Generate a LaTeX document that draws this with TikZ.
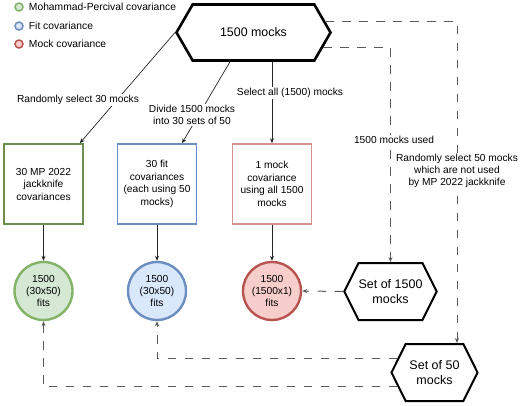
\documentclass[tikz,border=0pt]{standalone}
\usepackage{fontspec}
\setmainfont{Liberation Sans}
\usetikzlibrary{shapes.symbols,arrows.meta,positioning}

\definecolor{mpline}{HTML}{82B366}
\definecolor{mpfill}{HTML}{D5E8D4}
\definecolor{mpbox}{HTML}{6D8E4E}
\definecolor{fitline}{HTML}{6C8EBF}
\definecolor{fitfill}{HTML}{DAE8FC}
\definecolor{mockline}{HTML}{B85450}
\definecolor{mockfill}{HTML}{F8CECC}
\definecolor{mockbox}{HTML}{D4928E}

\begin{document}
\begin{tikzpicture}[x=1pt,y=-1pt,>={Stealth[length=5pt,width=4pt]},
    cov box/.style={rectangle,draw,line width=1.6pt,minimum width=79pt,minimum height=80pt,align=center,font=\fontsize{10.2}{12.5}\selectfont},
    fit node/.style={circle,draw,line width=2.4pt,minimum size=58pt,inner sep=0pt,align=center,font=\fontsize{10.2}{12.3}\selectfont},
    mock set/.style={signal,signal to=west and east,draw,line width=2pt,inner sep=0pt,align=center},
    key node/.style={circle,draw,line width=1.5pt,minimum size=8pt,inner sep=0pt},
    key text/.style={inner sep=0pt,font=\fontsize{10.3}{12}\selectfont},
    step label/.style={fill=white,inner sep=1pt,align=center,font=\fontsize{10.2}{12.2}\selectfont},
    solid link/.style={->,draw=black!85,line width=0.7pt},
    dashed link/.style={->,draw=black!65,line width=1pt,dash pattern=on 8.5pt off 8.5pt}]

    \useasboundingbox (0,0) rectangle (520,405);

    % legend
    \node[key node, draw=mpline, fill=mpfill]  (mpkey)   at (19,7) {};
    \node[key node, draw=fitline, fill=fitfill]  (fitkey)  at (19,26) {};
    \node[key node, draw=mockline, fill=mockfill]  (mockkey) at (19,44) {};
    \node[key text] (mpkeytext)   [right=5pt of mpkey]   {Mohammad-Percival covariance};
    \node[key text] (fitkeytext)  [right=5pt of fitkey]  {Fit covariance};
    \node[key text] (mockkeytext) [right=5pt of mockkey] {Mock covariance};

    % all mocks
    \node[mock set, line width=2.6pt, minimum width=154pt, minimum height=56pt, signal pointer angle=120,
          font=\fontsize{12.4}{15}\selectfont] (top) at (253.5,32.5) {1500 mocks};
    \coordinate (topdiv) at ([xshift=-23.5pt]top.south);
    \coordinate (topall) at ([xshift=18.5pt]top.south);

    % covariances
    \node[cov box, draw=mpbox]   (mpcov)   at (43.5,184) {30 MP 2022\\jackknife\\covariances};
    \node[cov box, draw=fitline] (fitcov)  at (157,184)  {30 fit\\covariances\\(each using 50\\mocks)};
    \node[cov box, draw=mockbox] (mockcov) at (272,184)  {1 mock\\covariance\\using all 1500\\mocks};

    % fits
    \node[fit node, draw=mpline, fill=mpfill]     (mpfits)   at (43.5,291) {1500\\(30x50)\\fits};
    \node[fit node, draw=fitline, fill=fitfill]   (fitfits)  at (157,291)  {1500\\(30x50)\\fits};
    \node[fit node, draw=mockline, fill=mockfill] (mockfits) at (272,291)  {1500\\(1500x1)\\fits};

    % mock sets
    \node[mock set, minimum width=86pt, minimum height=57pt, signal pointer angle=127,
          font=\fontsize{12.5}{15}\selectfont] (set1500) at (390.5,291.5) {Set of 1500\\mocks};
    \node[mock set, minimum width=86pt, minimum height=57pt, signal pointer angle=127,
          font=\fontsize{12.5}{15}\selectfont] (set50) at (434.5,372.5) {Set of 50\\mocks};

    \draw[solid link] (top.west) -- ([xshift=-4pt]mpcov.north east);
    \draw[solid link] (topdiv) -- ([xshift=25pt]fitcov.north);
    \draw[solid link] (topall) -- (mockcov.north);
    \draw[solid link] (mpcov) -- (mpfits);
    \draw[solid link] (fitcov) -- (fitfits);
    \draw[solid link] (mockcov) -- (mockfits);

    \draw[dashed link] (top.9) -| ([xshift=22.5pt]set50.north);
    \draw[dashed link] (top.-12) -| (set1500.north);
    \draw[dashed link] (set1500.west) -- (mockfits.east);
    \draw[dashed link] (set50.159) -| (fitfits.south);
    \draw[dashed link] (set50.201) -| (mpfits.south);

    % labels
    \node[step label] (pickmp)  at (78,100)  {Randomly select 30 mocks};
    \node[step label] (divide)  at (192,115) {Divide 1500 mocks\\into 30 sets of 50};
    \node[step label] (pickall) at (290,93)  {Select all (1500) mocks};
    \node[step label] (used)    at (394,140) {1500 mocks used};
    \node[step label] (pick50)  at (457,171) {Randomly select 50 mocks\\which are not used\\by MP 2022 jackknife};
\end{tikzpicture}
\end{document}
